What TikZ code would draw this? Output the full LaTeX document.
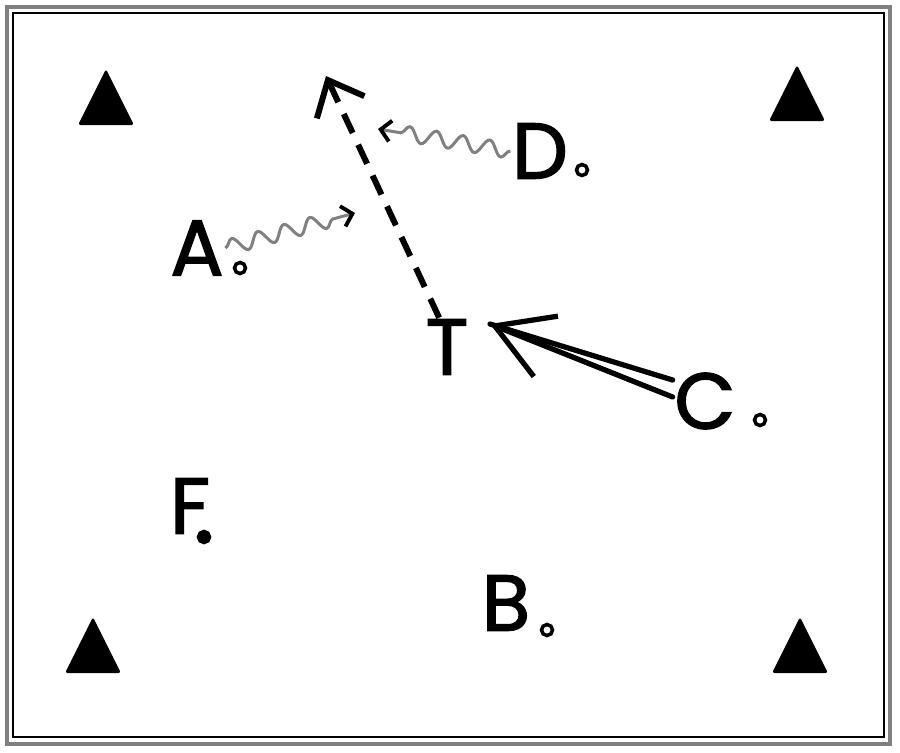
\documentclass[tikz,border=0pt]{standalone}
\usepackage{fontspec}
\setmainfont{Poppins}
\newfontfamily\playerfont[FakeBold=1.8]{Poppins}
\usetikzlibrary{arrows.meta}
\usetikzlibrary{decorations.pathmorphing}
\tikzset{player/.style = {font=\playerfont\fontsize{45}{45}\selectfont,inner sep=1pt,outer sep=0pt}}
\tikzset{spot/.style = {shape=circle,draw,line width=2pt,fill=white,inner sep=0pt,minimum size=0.22cm}}
\tikzset{run/.style = {line width=3.4pt,dash pattern=on 0.42cm off 0.26cm,-{Straight Barb[length=0.6cm,width=1.05cm,line width=3.4pt]}}}
\tikzset{pass/.style = {line width=3pt,line cap=round}}
\tikzset{dribble/.style = {gray,line width=1.7pt,decorate,
    decoration={snake,amplitude=0.15cm,segment length=0.54cm,post length=0.25cm},
    -{Straight Barb[color=black,length=0.2cm,width=0.42cm,line width=2.2pt]}}}
\tikzset{cone/.pic = {\fill[rounded corners=1.5pt] (0,-29) -- (28,27) -- (-28,27) -- cycle;}}

\begin{document}
\begin{tikzpicture}[x=0.02cm,y=-0.02cm]
            \useasboundingbox (0,0) rectangle (900,752);
            \draw[gray,line width=2.6pt] (7,7) rectangle (890,744);
            \draw[line width=0.9pt] (13,13) rectangle (884,737);

            \pic at (106,98) {cone};
            \pic at (797,94) {cone};
            \pic at (93,646) {cone};
            \pic at (800,646) {cone};

            \node[player] (a) at (197,248) {A};
            \node[player] (d) at (540,151) {D};
            \node[player] (t) at (447,347) {T};
            \node[player] (c) at (705,401) {C};
            \node[player] (f) at (190,506) {F};
            \node[player] (b) at (506,603) {B};

            \node[spot] (adot) at (240,268) {};
            \node[spot] (ddot) at (582,170) {};
            \node[spot] (cdot) at (760,420) {};
            \node[spot,fill=black] (fdot) at (204,537) {};
            \node[spot] (bdot) at (547,630) {};

            \coordinate (runend) at (326,76);
            \coordinate (passend) at (490,324);
            \coordinate (aend) at (355,213);
            \coordinate (dend) at (378,129);

            \draw[run] (t.105) -- (runend);
            \draw[pass] (c.147) -- (passend);
            \draw[pass,-{Straight Barb[length=1.1cm,width=1.3cm,line width=3pt]}] (c.173) -- (passend);
            \draw[dribble] (a.east) -- (aend);
            \draw[dribble] (d.west) -- (dend);
\end{tikzpicture}
\end{document}
